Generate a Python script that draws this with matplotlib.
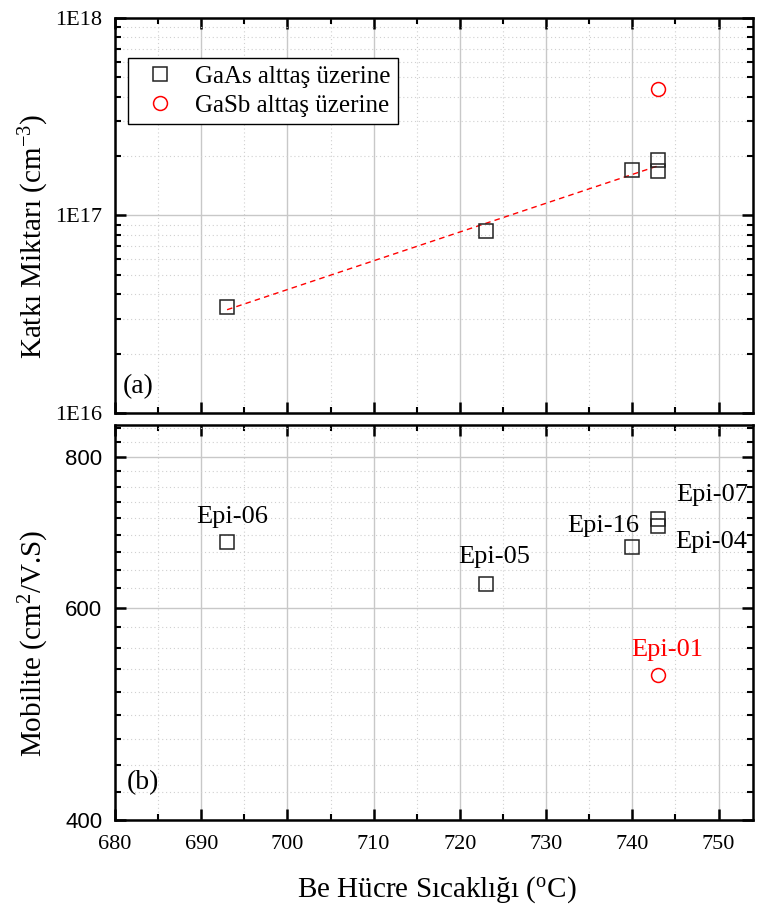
import numpy as np
import matplotlib
matplotlib.use("Agg")
import matplotlib.pyplot as plt
from matplotlib.ticker import FixedLocator, MultipleLocator, LogLocator, NullFormatter, FuncFormatter

plt.rcParams['font.family'] = 'Liberation Serif'
plt.rcParams['mathtext.fontset'] = 'custom'
plt.rcParams['mathtext.rm'] = 'Liberation Serif'

### Data ###
gaas_T = [693, 723, 740, 743, 743]
gaas_doping = [3.45e16, 8.3e16, 1.70e17, 1.91e17, 1.68e17]
gaas_mob = [680, 628, 674, 710, 701]
gaas_names = ['Epi-06', 'Epi-05', 'Epi-16', 'Epi-07', 'Epi-04']

gasb_T = [743]
gasb_doping = [4.35e17]
gasb_mob = [528]
gasb_names = ['Epi-01']

doping_ticks = [1e16, 1e17, 1e18]
doping_ticklabels = ['1E16', '1E17', '1E18']
mob_ticks = [400, 600, 800]
### End data ###

# label offsets in pixels (dx, dy) from each point
gaas_offsets = [(5, 25), (8, 27), (-29, 21), (54, 24), (53, -16)]
gasb_offsets = [(9, 25)]

fig = plt.figure(figsize=(7.58, 9.09), dpi=100)
ax1 = fig.add_axes([0.1517, 0.5457, 0.8417, 0.4345])
ax2 = fig.add_axes([0.1517, 0.0979, 0.8417, 0.4346])

sq = dict(marker='s', ms=9.5, mfc='none', mec='#222222', mew=1.1, ls='none')
ci = dict(marker='o', ms=10, mfc='none', mec='red', mew=1.1, ls='none')

# (a) doping
ax1.plot(gaas_T, gaas_doping, label='GaAs alttaş üzerine', **sq)
ax1.plot(gasb_T, gasb_doping, label='GaSb alttaş üzerine', **ci)

coef = np.polyfit(gaas_T, np.log10(gaas_doping), 1)
xfit = np.array([min(gaas_T), max(gaas_T)])
ax1.plot(xfit, 10**np.polyval(coef, xfit), color='red', lw=1, ls=(0, (4, 3)), zorder=1)

ax1.set_yscale('log')
ax1.set_ylim(1e16, 1e18)
ax1.yaxis.set_major_locator(FixedLocator(doping_ticks))
ax1.set_yticklabels(doping_ticklabels)
ax1.yaxis.set_minor_locator(LogLocator(base=10, subs=np.arange(2, 10)))
ax1.yaxis.set_minor_formatter(NullFormatter())

leg = ax1.legend(loc='upper left', bbox_to_anchor=(0.02, 0.899), borderaxespad=0,
                 fontsize=18, fancybox=False, edgecolor='black', framealpha=1,
                 handletextpad=0.4, labelspacing=0.25, borderpad=0.3)
leg.get_frame().set_linewidth(1.0)

ax1.set_ylabel('Katkı Miktarı (cm$\\mathregular{^{-3}}$)', fontsize=21)
ax1.yaxis.set_label_coords(-0.10, 0.446)
ax1.text(0.0125, 0.066, '(a)', transform=ax1.transAxes, fontsize=20, va='center', ha='left')

# (b) mobility
ax2.plot(gaas_T, gaas_mob, **sq)
ax2.plot(gasb_T, gasb_mob, **ci)
for x, y, name, off in zip(gaas_T, gaas_mob, gaas_names, gaas_offsets):
    ax2.annotate(name, (x, y), xytext=off, textcoords='offset pixels',
                 ha='center', va='center', fontsize=19)
for x, y, name, off in zip(gasb_T, gasb_mob, gasb_names, gasb_offsets):
    ax2.annotate(name, (x, y), xytext=off, textcoords='offset pixels',
                 ha='center', va='center', fontsize=19, color='red')

ax2.set_yscale('log')
ax2.set_ylim(400, 850)
ax2.yaxis.set_major_locator(FixedLocator(mob_ticks))
ax2.yaxis.set_major_formatter(FuncFormatter(lambda v, p: '%d' % v))
minor_mob = [m + 200 * k / 9 for m in mob_ticks for k in range(1, 9)]
ax2.yaxis.set_minor_locator(FixedLocator(minor_mob))
ax2.yaxis.set_minor_formatter(NullFormatter())

ax2.set_ylabel('Mobilite (cm$\\mathregular{^{2}}$/V.S)', fontsize=21)
ax2.yaxis.set_label_coords(-0.10, 0.448)
ax2.set_xlabel('Be Hücre Sıcaklığı ($\\mathregular{^{o}}$C)', fontsize=21)
ax2.xaxis.set_label_coords(0.505, -0.138)
ax2.text(0.019, 0.094, '(b)', transform=ax2.transAxes, fontsize=20, va='center', ha='left')

for ax in (ax1, ax2):
    ax.set_xlim(680, 754)
    ax.xaxis.set_major_locator(MultipleLocator(10))
    ax.xaxis.set_minor_locator(MultipleLocator(5))
    ax.grid(True, which='major', color='#c8c8c8', lw=1.0, ls='-')
    ax.grid(True, which='minor', color='#d0d0d0', lw=0.8, ls=(0, (1, 2.5)))
    ax.set_axisbelow(True)
    ax.tick_params(which='both', direction='in', top=True, right=True, labelsize=16)
    ax.tick_params(which='major', length=8, width=1.8)
    ax.tick_params(which='minor', length=4, width=1.5)
    ax.tick_params(axis='x', pad=11)
    ax.tick_params(axis='y', pad=9)
    for s in ax.spines.values():
        s.set_linewidth(1.8)

ax1.tick_params(axis='x', labelbottom=False)
for lab in ax2.get_yticklabels():
    lab.set_fontfamily('Liberation Sans')

fig.savefig('out.png', dpi=100)
